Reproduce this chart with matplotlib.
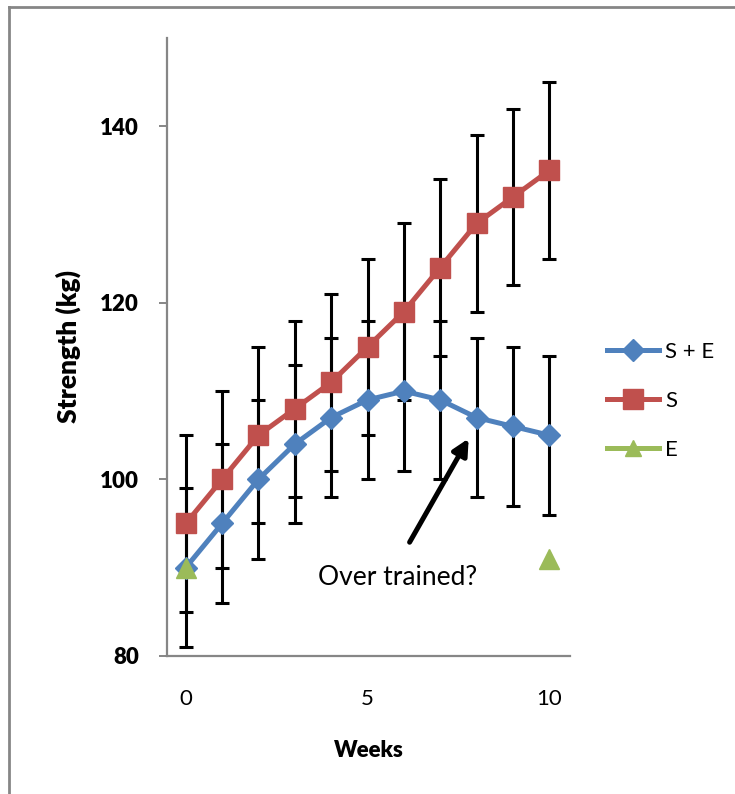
import numpy as np
import matplotlib
matplotlib.use('Agg')
import matplotlib.pyplot as plt
from matplotlib.lines import Line2D

plt.rcParams['font.family'] = ['Lato', 'DejaVu Sans']

# data
weeks = [0, 1, 2, 3, 4, 5, 6, 7, 8, 9, 10]
s_plus_e = [90, 95, 100, 104, 107, 109, 110, 109, 107, 106, 105]
s_plus_e_err = [9] * 11
s_only = [95, 100, 105, 108, 111, 115, 119, 124, 129, 132, 135]
s_only_err = [10] * 11
e_weeks = [0, 10]
e_only = [90, 91]

blue = '#4F81BD'
red = '#C0504D'
green = '#9BBB59'
grey = '#868686'

fig = plt.figure(figsize=(7.35, 7.94), dpi=100)
ax = fig.add_axes([0.227, 0.174, 0.549, 0.778])

# error bars (below the lines)
ax.errorbar(weeks, s_only, yerr=s_only_err, fmt='none', ecolor='black',
            elinewidth=2.2, capsize=5, capthick=2.2, zorder=2)
ax.errorbar(weeks, s_plus_e, yerr=s_plus_e_err, fmt='none', ecolor='black',
            elinewidth=2.2, capsize=5, capthick=2.2, zorder=2)

ax.plot(weeks, s_plus_e, color=blue, lw=3.6, marker='D', ms=11,
        label='S + E', zorder=4)
ax.plot(weeks, s_only, color=red, lw=3.6, marker='s', ms=14,
        label='S', zorder=3)
ax.plot(e_weeks, e_only, color=green, lw=3.6, marker='^', ms=14,
        linestyle='none', label='E', zorder=5)

ax.set_xlim(-0.52, 10.58)
ax.set_ylim(80, 150)
ax.set_xticks([0, 5, 10])
ax.set_yticks([80, 100, 120, 140])

for side in ['top', 'right']:
    ax.spines[side].set_visible(False)
for side in ['left', 'bottom']:
    ax.spines[side].set_color(grey)
    ax.spines[side].set_linewidth(1.6)

ax.tick_params(axis='y', direction='out', length=6, width=1.4, color=grey,
               pad=14, labelsize=16)
ax.tick_params(axis='x', length=0, pad=24, labelsize=16)
for lab in ax.get_yticklabels():
    lab.set_fontweight('heavy')

ax.set_xlabel('Weeks', fontsize=16, fontweight='heavy', labelpad=22)
ax.set_ylabel('Strength (kg)', fontsize=19, fontweight='heavy', labelpad=14)

# annotation
ax.annotate('', xy=(7.82, 104.9), xytext=(6.12, 92.6),
            arrowprops=dict(arrowstyle='-|>', color='black', lw=3.6,
                            mutation_scale=24))
ax.text(5.84, 88.9, 'Over trained?', fontsize=19, ha='center', va='center')

# legend at the right
handles, labels = ax.get_legend_handles_labels()
handles[2] = Line2D([], [], color=green, lw=3.6, marker='^', ms=12)
leg = fig.legend(handles, labels, loc='center left',
                 bbox_to_anchor=(0.814, 0.495), frameon=False, fontsize=16,
                 handlelength=2.35, handletextpad=0.25, labelspacing=1.3,
                 borderaxespad=0)

# outer chart border
fig.add_artist(Line2D([8.5 / 735, 8.5 / 735], [0, 1 - 6.5 / 794],
                      color=grey, lw=2, transform=fig.transFigure))
fig.add_artist(Line2D([8.5 / 735, 1], [1 - 6.5 / 794, 1 - 6.5 / 794],
                      color=grey, lw=2, transform=fig.transFigure))

fig.savefig('out.png', dpi=100)
